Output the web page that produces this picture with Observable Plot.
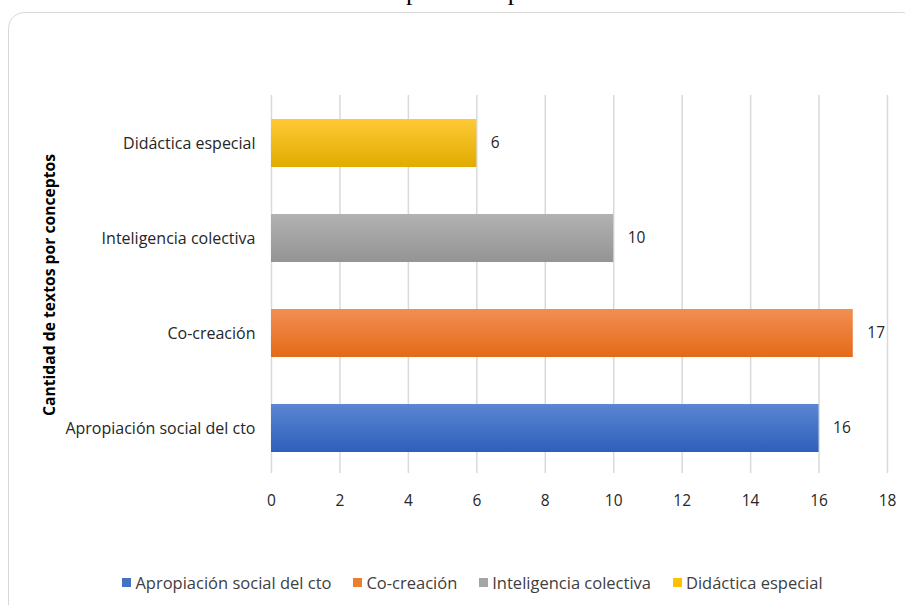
<!DOCTYPE html>
<html>
<head>
<meta charset="utf-8">
<script src="https://cdn.jsdelivr.net/npm/d3@7"></script>
<script src="https://cdn.jsdelivr.net/npm/@observablehq/plot@0.6"></script>
<style>
  html, body { margin: 0; padding: 0; background: #fff; }
  #page { position: relative; width: 905px; height: 605px; overflow: hidden; font-family: "Open Sans", sans-serif; }
  #title { position: absolute; left: 71px; top: -23px; font-family: "Liberation Serif", serif; font-size: 26px; line-height: 30px; white-space: nowrap; color: #000; }
  #frame { position: absolute; left: 8px; top: 12px; width: 910px; height: 610px; border: 1.5px solid #d9d9d9; border-radius: 16px; box-sizing: border-box; }
  #chart { position: absolute; left: 0; top: 0; }
  #legend { position: absolute; left: 0; width: 905px; top: 571px; display: flex; justify-content: center; gap: 22px; font-size: 16.5px; color: #404040; padding-left: 40px; box-sizing: border-box; }
  #legend .item { display: flex; align-items: center; gap: 4px; white-space: nowrap; }
  #legend .sw { width: 9px; height: 9px; display: inline-block; }
</style>
</head>
<body>
<div id="page">
  <div id="title">Gráfico 1. Cantidad de estudios por concepto</div>
  <div id="frame"></div>
  <div id="chart"></div>
  <div id="legend"></div>
</div>
<script>
const categories = ["Apropiación social del cto", "Co-creación", "Inteligencia colectiva", "Didáctica especial"];
const values = [16, 17, 10, 6];
const colorsTop = ["#5a86d2", "#f28e52", "#b2b2b2", "#ffc936"];
const colorsBottom = ["#2e5fbc", "#e46a18", "#949494", "#e0ac00"];
const legendColors = ["#4472c4", "#ed7d31", "#a5a5a5", "#ffc000"];
const xTicks = [0, 2, 4, 6, 8, 10, 12, 14, 16, 18];
const yTitle = "Cantidad de textos por conceptos";

const data = categories.map((c, i) => ({category: c, value: values[i], grad: `url(#grad${i})`}));

const plot = Plot.plot({
  width: 905,
  height: 540,
  marginTop: 95,
  marginBottom: 65,
  marginLeft: 271,
  marginRight: 18,
  style: {fontFamily: "Open Sans, sans-serif", fontSize: "16px", color: "#262626", background: "transparent"},
  x: {domain: [0, 18], ticks: xTicks, tickSize: 0, label: null, grid: false},
  y: {domain: [...categories].reverse(), paddingInner: 0.5, paddingOuter: 0.25, tickSize: 0, label: null},
  color: {type: "identity"},
  marks: [
    Plot.ruleX(xTicks, {stroke: "#d9d9d9", strokeWidth: 1.5, strokeOpacity: 1, insetBottom: 2}),
    Plot.barX(data, {x: "value", y: "category", fill: "grad"}),
    Plot.text(data, {x: "value", y: "category", text: d => String(d.value), dx: 14, textAnchor: "start", fill: "#262626", fontSize: 15.5}),
    Plot.axisX({ticks: xTicks, tickSize: 0, tickPadding: 19, fill: "#262626", fontSize: 15.5}),
    Plot.axisY({tickSize: 0, tickPadding: 16, fill: "#262626", fontSize: 16})
  ]
});

const svg = d3.select(plot);
const defs = svg.insert("defs", ":first-child");
categories.forEach((c, i) => {
  const g = defs.append("linearGradient").attr("id", `grad${i}`).attr("x1", 0).attr("y1", 0).attr("x2", 0).attr("y2", 1);
  g.append("stop").attr("offset", "0%").attr("stop-color", colorsTop[i]);
  g.append("stop").attr("offset", "100%").attr("stop-color", colorsBottom[i]);
});
// y-axis title (rotated)
svg.append("text")
  .attr("transform", `translate(49, ${285}) rotate(-90)`)
  .attr("text-anchor", "middle")
  .attr("dominant-baseline", "central")
  .attr("font-family", "Open Sans, sans-serif")
  .attr("font-weight", "bold")
  .attr("font-size", 15.7)
  .attr("fill", "#000")
  .text(yTitle);

document.getElementById("chart").appendChild(plot);

const legend = document.getElementById("legend");
categories.forEach((c, i) => {
  const item = document.createElement("div");
  item.className = "item";
  const sw = document.createElement("span");
  sw.className = "sw";
  sw.style.background = legendColors[i];
  const t = document.createElement("span");
  t.textContent = c;
  item.appendChild(sw);
  item.appendChild(t);
  legend.appendChild(item);
});
</script>
</body>
</html>
